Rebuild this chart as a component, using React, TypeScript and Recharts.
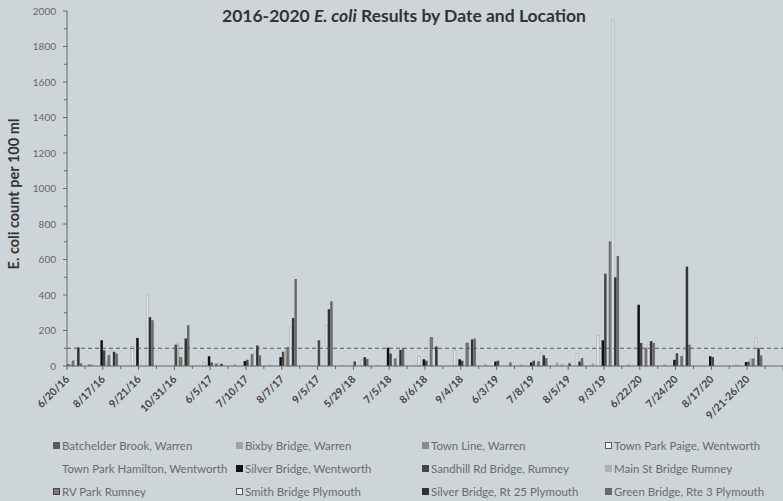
import React from 'react';
import { BarChart, Bar, XAxis, YAxis, ReferenceLine } from 'recharts';

const dates = ['6/20/16', '8/17/16', '9/21/16', '10/31/16', '6/5/17', '7/10/17', '8/7/17', '9/5/17', '5/29/18', '7/5/18', '8/6/18', '9/4/18', '6/3/19', '7/8/19', '8/5/19', '9/3/19', '6/22/20', '7/24/20', '8/17/20', '9/21-26/20'];

const yTicks = [0, 200, 400, 600, 800, 1000, 1200, 1400, 1600, 1800, 2000];

const seriesNames = [
  'Batchelder Brook, Warren',
  'Bixby Bridge, Warren',
  'Town Line, Warren',
  'Town Park Paige, Wentworth',
  'Town Park Hamilton, Wentworth',
  'Silver Bridge, Wentworth',
  'Sandhill Rd Bridge, Rumney',
  'Main St Bridge Rumney',
  'RV Park Rumney',
  'Smith Bridge Plymouth',
  'Silver Bridge, Rt 25 Plymouth',
  'Green Bridge, Rte 3 Plymouth',
];

const n = null;
const batchelderBrook = [n, 8, n, n, n, n, n, n, n, n, n, n, n, n, n, n, n, n, n, n];
const bixbyBridge = [n, 10, n, n, n, 10, 5, 5, 5, 5, 5, n, 10, 8, 20, 15, 10, 10, n, 8];
const townLine = [n, n, n, n, n, n, n, n, n, n, n, n, n, n, n, n, n, n, n, n];
const townParkPaige = [n, n, 110, n, 20, n, n, n, n, n, 55, 90, n, n, 8, 170, n, n, n, n];
const townParkHamilton = [n, n, n, n, n, n, n, n, n, n, n, n, 25, n, n, n, n, n, n, 10];
const silverBridgeWentworth = [n, 145, 158, n, 55, 28, 50, n, n, 103, 38, 38, 25, 20, n, 145, 345, 35, 55, 22];
const sandhillRdBridge = [10, 88, n, 120, 20, 35, 80, 145, 25, 70, 30, 30, 30, 30, 15, 520, 130, 72, 50, 25];
const mainStBridge = [12, 25, n, 128, n, n, 90, n, n, n, n, n, n, n, n, n, n, n, n, 45];
const rvPark = [28, 60, n, 48, 12, 65, 105, n, n, 40, 160, 130, n, 25, n, 700, 100, 55, n, 40];
const smithBridge = [30, 85, 400, n, 15, 72, 220, 230, 35, 55, 100, n, n, 75, 70, 1950, 120, 90, n, 160];
const silverBridgeRt25 = [105, 80, 275, 155, 12, 115, 270, 320, 50, 90, 110, 150, n, 60, 25, 500, 140, 560, n, 100];
const greenBridge = [15, 70, 258, 230, n, 60, 490, 365, 40, 100, n, 155, 20, 45, 45, 620, 130, 120, n, 60];

const seriesValues = [
  batchelderBrook, bixbyBridge, townLine, townParkPaige, townParkHamilton, silverBridgeWentworth,
  sandhillRdBridge, mainStBridge, rvPark, smithBridge, silverBridgeRt25, greenBridge,
];

const seriesStyle = [
  { fill: '#5a5a5a', stroke: 'none' },
  { fill: '#a2a2a2', stroke: 'none' },
  { fill: '#8a8a8a', stroke: 'none' },
  { fill: '#e8ebec', stroke: '#8a8a8a' },
  { fill: '#dfe3e5', stroke: 'none' },
  { fill: '#111111', stroke: 'none' },
  { fill: '#474747', stroke: 'none' },
  { fill: '#b0b0b0', stroke: 'none' },
  { fill: '#7a7a7a', stroke: '#444444' },
  { fill: '#dde1e3', stroke: '#a0a4a6' },
  { fill: '#333333', stroke: 'none' },
  { fill: '#696969', stroke: 'none' },
];

const data = dates.map((d, i) => {
  const row: any = { x: i, date: d };
  seriesValues.forEach((arr, s) => {
    row['s' + s] = arr[i];
  });
  return row;
});

const BG = '#ced5d8';
const FONT = 'Lato, "Open Sans", sans-serif';
const PLOT_W = 716;
const PLOT_H = 355;
const STEP_X = PLOT_W / 20;
const STEP_Y = PLOT_H / 10;

const XTick = (props: any) => {
  const { x, y, payload } = props;
  const v = payload.value;
  const label = dates[v];
  return (
    <g>
      <line x1={x} y1={y} x2={x} y2={y + 4} stroke="#666" strokeWidth={1} />
      {v < 20 && <line x1={x + STEP_X / 2} y1={y} x2={x + STEP_X / 2} y2={y + 3} stroke="#666" strokeWidth={1} />}
      {label && (
        <text
          x={x + 3}
          y={y + 14}
          transform={`rotate(-45, ${x + 3}, ${y + 14})`}
          textAnchor="end"
          fontFamily={FONT}
          fontWeight="bold"
          fontSize={10.5}
          fill="#444"
        >
          {label}
        </text>
      )}
    </g>
  );
};

const YTick = (props: any) => {
  const { x, y, payload } = props;
  const v = payload.value;
  return (
    <g>
      <line x1={x - 4} y1={y} x2={x} y2={y} stroke="#666" strokeWidth={1} />
      {v < 2000 && <line x1={x - 3} y1={y - STEP_Y / 2} x2={x} y2={y - STEP_Y / 2} stroke="#666" strokeWidth={1} />}
      <text x={x - 11} y={y} dy="0.35em" textAnchor="end" fontFamily={FONT} fontSize={10} fill="#666">
        {v}
      </text>
    </g>
  );
};

const legendCols = [53, 236, 422, 605];
const legendRows = [445, 468, 491];

export default function App() {
  return (
    <div style={{ position: 'absolute', left: 0, top: 0, width: 783, height: 501, background: BG, overflow: 'hidden' }}>
      <BarChart
        width={783}
        height={501}
        data={data}
        margin={{ top: 11, right: 0, bottom: 95, left: 0 }}
        barSize={2.5}
        barGap={0}
      >
        <XAxis
          dataKey="x"
          type="number"
          domain={[0, 20]}
          ticks={[0, 1, 2, 3, 4, 5, 6, 7, 8, 9, 10, 11, 12, 13, 14, 15, 16, 17, 18, 19, 20]}
          allowDataOverflow
          interval={0}
          height={40}
          tickLine={false}
          tickSize={0}
          tickMargin={0}
          tick={<XTick />}
          stroke="#666"
        />
        <YAxis
          domain={[0, 2000]}
          ticks={yTicks}
          interval={0}
          width={67}
          tickLine={false}
          tickSize={0}
          tickMargin={0}
          tick={<YTick />}
          stroke="#666"
        />
        <ReferenceLine y={100} stroke="#555" strokeDasharray="4 3" strokeWidth={1} />
        {seriesNames.map((name, s) => (
          <Bar
            key={name}
            name={name}
            dataKey={'s' + s}
            fill={seriesStyle[s].fill}
            stroke={seriesStyle[s].stroke}
            strokeWidth={0.5}
            isAnimationActive={false}
          />
        ))}
      </BarChart>
      <svg width={783} height={501} style={{ position: 'absolute', left: 0, top: 0, pointerEvents: 'none' }}>
        <text x={404} y={22} textAnchor="middle" fontFamily={FONT} fontWeight="bold" fontSize={17.5} fill="#333">
          2016-2020 <tspan fontStyle="italic">E. coli</tspan> Results by Date and Location
        </text>
        <text
          x={19}
          y={194}
          transform="rotate(-90, 19, 194)"
          textAnchor="middle"
          fontFamily={FONT}
          fontWeight="bold"
          fontSize={14.5}
          fill="#333"
        >
          E. coli count per 100 ml
        </text>
      </svg>
      {seriesNames.map((name, s) => {
        const col = s % 4;
        const row = Math.floor(s / 4);
        const st = seriesStyle[s];
        return (
          <div
            key={name}
            style={{
              position: 'absolute',
              left: legendCols[col],
              top: legendRows[row] - 8,
              height: 16,
              display: 'flex',
              alignItems: 'center',
              fontFamily: FONT,
              fontSize: 11.5,
              color: '#6a6a6a',
              whiteSpace: 'nowrap',
            }}
          >
            <span
              style={{
                display: 'inline-block',
                width: 7,
                height: 7,
                marginRight: 2,
                background: s === 4 ? 'transparent' : s === 3 || s === 9 ? '#f4f4f4' : st.fill,
                border: st.stroke !== 'none' ? `1px solid ${s === 3 || s === 9 ? '#555' : st.stroke}` : 'none',
                boxSizing: 'border-box',
              }}
            />
            {name}
          </div>
        );
      })}
    </div>
  );
}
